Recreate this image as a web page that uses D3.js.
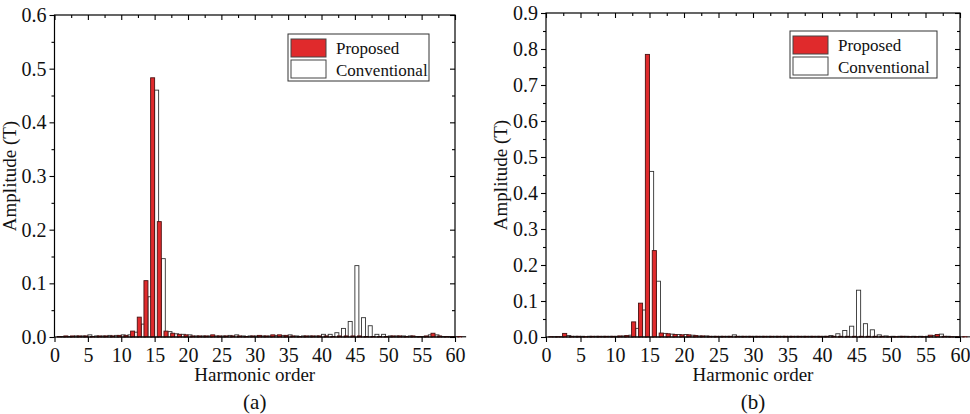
<!DOCTYPE html>
<html>
<head>
<meta charset="utf-8">
<script src="https://cdn.jsdelivr.net/npm/d3@7"></script>
<style>
  body { margin: 0; background: #fff; }
  svg { display: block; font-family: "Liberation Serif", "Times New Roman", serif; }
</style>
</head>
<body>
<svg id="chart" width="970" height="414"></svg>
<script>
// harmonic orders 1..61
const harmonics = [1,2,3,4,5,6,7,8,9,10,11,12,13,14,15,16,17,18,19,20,
  21,22,23,24,25,26,27,28,29,30,31,32,33,34,35,36,37,38,39,40,
  41,42,43,44,45,46,47,48,49,50,51,52,53,54,55,56,57,58,59,60,61];

// panel (a)
const proposedA = [0.001,0.002,0.002,0.002,0.002,0.001,0.002,0.002,0.002,0.003,
  0.003,0.011,0.037,0.105,0.483,0.215,0.011,0.007,0.005,0.004,
  0.002,0.002,0.002,0.004,0.002,0.002,0.002,0.002,0.001,0.002,
  0.003,0.002,0.004,0.004,0.003,0.002,0.001,0.002,0.002,0.002,
  0.002,0.001,0.002,0.002,0.002,0.002,0.001,0.001,0.001,0.001,
  0.002,0.002,0.001,0.002,0.001,0.002,0.007,0.002,0.001,0.001,0.001];
const conventionalA = [0.001,0.001,0.002,0.002,0.004,0.002,0.002,0.003,0.003,0.004,
  0.004,0.009,0.024,0.075,0.460,0.146,0.010,0.006,0.005,0.004,
  0.002,0.002,0.002,0.002,0.002,0.003,0.004,0.002,0.002,0.002,
  0.002,0.002,0.003,0.003,0.004,0.002,0.002,0.002,0.002,0.005,
  0.005,0.008,0.016,0.029,0.133,0.036,0.021,0.005,0.005,0.002,
  0.002,0.002,0.002,0.001,0.001,0.004,0.004,0.001,0.001,0.001,0.001];

// panel (b)
const proposedB = [0.001,0.001,0.010,0.002,0.002,0.001,0.002,0.002,0.002,0.002,
  0.003,0.004,0.042,0.094,0.785,0.240,0.011,0.009,0.007,0.006,
  0.006,0.004,0.003,0.002,0.002,0.002,0.002,0.002,0.002,0.002,
  0.002,0.002,0.002,0.002,0.002,0.002,0.002,0.002,0.002,0.002,
  0.002,0.002,0.002,0.002,0.002,0.002,0.002,0.002,0.002,0.001,
  0.001,0.002,0.001,0.001,0.001,0.005,0.007,0.002,0.001,0.001,0.001];
const conventionalB = [0.001,0.001,0.004,0.002,0.002,0.002,0.002,0.002,0.002,0.002,
  0.003,0.005,0.024,0.075,0.460,0.155,0.010,0.008,0.007,0.007,
  0.005,0.003,0.003,0.002,0.002,0.002,0.006,0.002,0.002,0.002,
  0.002,0.002,0.002,0.002,0.002,0.002,0.002,0.002,0.002,0.002,
  0.004,0.009,0.018,0.030,0.130,0.037,0.020,0.006,0.003,0.002,
  0.002,0.002,0.002,0.002,0.002,0.004,0.008,0.002,0.001,0.001,0.001];

const xTicks = [0,5,10,15,20,25,30,35,40,45,50,55,60];
const yTicksA = [0,0.1,0.2,0.3,0.4,0.5,0.6];
const yTicksB = [0,0.1,0.2,0.3,0.4,0.5,0.6,0.7,0.8,0.9];
const seriesNames = ["Proposed", "Conventional"];

const red = "#e02a2c";
const svg = d3.select("#chart");

function drawPanel(cfg) {
  const x = d3.scaleLinear().domain([0, 60]).range([cfg.left, cfg.right]);
  const y = d3.scaleLinear().domain([0, cfg.ymax]).range([cfg.bottom, cfg.top]);
  const g = svg.append("g");

  const rows = harmonics.map((h, i) => ({h, p: cfg.prop[i], c: cfg.conv[i]}));

  // conventional first, proposed drawn over it
  g.selectAll(".conv").data(rows).enter().append("rect")
    .attr("x", d => x(d.h))
    .attr("y", d => y(d.c))
    .attr("width", x(0.6) - x(0))
    .attr("height", d => y(0) - y(d.c))
    .attr("fill", "#fff")
    .attr("stroke", "#333")
    .attr("stroke-width", 0.9);

  g.selectAll(".prop").data(rows).enter().append("rect")
    .attr("x", d => x(d.h - 0.6))
    .attr("y", d => y(d.p))
    .attr("width", x(0.6) - x(0))
    .attr("height", d => y(0) - y(d.p))
    .attr("fill", red)
    .attr("stroke", "#4a1212")
    .attr("stroke-width", 0.9);

  // frame
  g.append("rect")
    .attr("x", cfg.left).attr("y", cfg.top)
    .attr("width", cfg.right - cfg.left).attr("height", cfg.bottom - cfg.top)
    .attr("fill", "none").attr("stroke", "#000").attr("stroke-width", 1.2);

  const yMinor = cfg.yTicks.slice(0, -1).map(v => v + 0.05);
  const xMinor = xTicks.slice(0, -1).map(v => v + 2.5);

  const styleAxis = sel => {
    sel.select(".domain").remove();
    sel.selectAll("line").attr("stroke", "#000").attr("stroke-width", 1.1);
    sel.selectAll("text").attr("font-size", 20).attr("fill", "#111")
      .attr("font-family", "Liberation Serif, serif");
  };

  g.append("g").attr("transform", `translate(${cfg.left},0)`)
    .call(d3.axisLeft(y).tickValues(cfg.yTicks).tickFormat(d3.format(".1f")).tickSize(5).tickPadding(3))
    .call(styleAxis);
  g.append("g").attr("transform", `translate(${cfg.left},0)`)
    .call(d3.axisLeft(y).tickValues(yMinor).tickFormat("").tickSize(3))
    .call(styleAxis);
  g.append("g").attr("transform", `translate(${cfg.right},0)`)
    .call(d3.axisRight(y).tickValues(cfg.yTicks).tickFormat("").tickSize(-5))
    .call(styleAxis);
  g.append("g").attr("transform", `translate(${cfg.right},0)`)
    .call(d3.axisRight(y).tickValues(yMinor).tickFormat("").tickSize(-3))
    .call(styleAxis);

  g.append("g").attr("transform", `translate(0,${cfg.bottom})`)
    .call(d3.axisBottom(x).tickValues(xTicks).tickSize(5).tickPadding(6))
    .call(styleAxis);
  g.append("g").attr("transform", `translate(0,${cfg.top})`)
    .call(d3.axisTop(x).tickValues(xTicks).tickFormat("").tickSize(-5))
    .call(styleAxis);
  g.append("g").attr("transform", `translate(0,${cfg.top})`)
    .call(d3.axisTop(x).tickValues(xMinor).tickFormat("").tickSize(-3))
    .call(styleAxis);

  // axis titles
  g.append("text")
    .attr("x", (cfg.left + cfg.right) / 2).attr("y", 381)
    .attr("text-anchor", "middle").attr("font-size", 19).attr("fill", "#111")
    .text("Harmonic order");
  g.append("text")
    .attr("transform", `translate(${cfg.left - 39},${(cfg.top + cfg.bottom) / 2}) rotate(-90)`)
    .attr("text-anchor", "middle").attr("font-size", 19).attr("fill", "#111")
    .text("Amplitude (T)");
  g.append("text")
    .attr("x", (cfg.left + cfg.right) / 2).attr("y", 409)
    .attr("text-anchor", "middle").attr("font-size", 21).attr("fill", "#111")
    .text(cfg.label);

  // legend
  const lg = g.append("g").attr("transform", `translate(${cfg.legX},${cfg.legY})`);
  lg.append("rect").attr("x", 0).attr("y", 0).attr("width", cfg.legW).attr("height", 47)
    .attr("fill", "#fff").attr("stroke", "#333").attr("stroke-width", 1);
  seriesNames.forEach((name, i) => {
    lg.append("rect").attr("x", 3).attr("y", 5 + i * 21).attr("width", 35).attr("height", 18)
      .attr("fill", i === 0 ? red : "#fff").attr("stroke", "#444").attr("stroke-width", 1);
    lg.append("text").attr("x", 48).attr("y", 20 + i * 22)
      .attr("font-size", 17).attr("fill", "#111").text(name);
  });
}

drawPanel({left: 54.5, right: 455, top: 15, bottom: 337, ymax: 0.6,
  yTicks: yTicksA, prop: proposedA, conv: conventionalA, label: "(a)",
  legX: 288, legY: 34, legW: 141});
drawPanel({left: 546, right: 960, top: 13, bottom: 337, ymax: 0.9,
  yTicks: yTicksB, prop: proposedB, conv: conventionalB, label: "(b)",
  legX: 790, legY: 31, legW: 147});
</script>
</body>
</html>
